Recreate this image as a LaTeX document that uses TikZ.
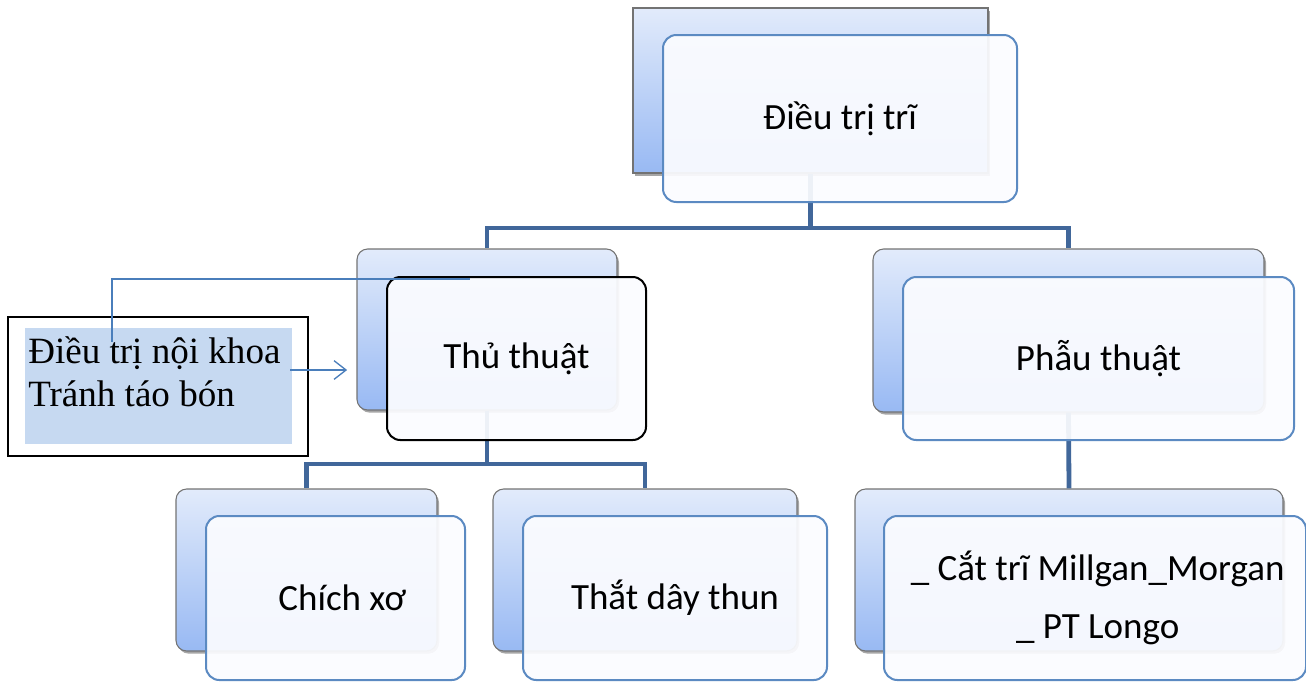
\documentclass[tikz,border=0pt]{standalone}
\usepackage{fontspec}
\setmainfont{Liberation Serif}
\newfontfamily\boxfont{Carlito}
\usetikzlibrary{shadows,arrows.meta,fit}
\definecolor{bkTop}{HTML}{E2EBFB}
\definecolor{bkBot}{HTML}{98B9F3}
\definecolor{frLine}{HTML}{5B8AC2}
\definecolor{frFill}{HTML}{FBFCFF}
\definecolor{connCol}{HTML}{41679A}
\definecolor{noteFill}{HTML}{C6D9F1}
\definecolor{arrCol}{HTML}{4A7EBB}
\begin{document}
\begin{tikzpicture}[x=0.75pt,y=-0.75pt,
  backbox/.style={draw=black!55, line width=0.8pt, top color=bkTop, bottom color=bkBot,
    rounded corners=8pt, inner sep=0pt,
    drop shadow={shadow xshift=1.5pt, shadow yshift=-2pt, opacity=0.35, fill=black}},
  frontbox/.style={draw=frLine, line width=1.5pt, fill=frFill, fill opacity=0.93,
    rounded corners=10pt, inner sep=0pt},
  lbl/.style={font=\boxfont\fontsize{27.75pt}{43.5pt}\selectfont, text=black, align=center, inner sep=0pt},
  conn/.style={draw=connCol, line width=3.6pt},
  notetext/.style={font=\fontsize{27.8pt}{32pt}\selectfont, anchor=base west, inner sep=0pt},
  thin arrow/.style={draw=arrCol, line width=1pt}
]
\useasboundingbox (0,0) rectangle (1306,682);

% back boxes
\node[backbox, rounded corners=0pt, fit={(633,8) (988,173)}] (topB) {};
\node[backbox, fit={(357,249) (617,410)}] (thuB) {};
\node[backbox, fit={(873,249) (1264,412)}] (phauB) {};
\node[backbox, fit={(176,489) (437,651)}] (chichB) {};
\node[backbox, fit={(493,489) (797,651)}] (thatB) {};
\node[backbox, fit={(855,489) (1283,651)}] (catB) {};

% connectors
\draw[conn] (topB.south) -- (topB.south |- 0,228) -| (thuB.north);
\draw[conn] (topB.south |- 0,228) -| (phauB.north);
\draw[conn] (thuB.south) -- (thuB.south |- 0,464) -| (chichB.north);
\draw[conn] (thuB.south |- 0,464) -| (thatB.north);
\draw[conn] (phauB.south) -- (catB.north);

% front boxes
\node[frontbox, fit={(663,35) (1017,202)}, label={[lbl]center:Điều trị trĩ}] (top) {};
\node[frontbox, draw=black, fit={(387,277) (646,440)}, label={[lbl]center:Thủ thuật}] (thu) {};
\node[frontbox, fit={(903,277) (1294,440)}, label={[lbl]center:Phẫu thuật}] (phau) {};
\node[frontbox, fit={(206,516) (465,680)}, label={[lbl, xshift=5pt]center:Chích xơ}] (chich) {};
\node[frontbox, fit={(523,516) (827,680)}, label={[lbl]center:Thắt dây thun}] (that) {};
\node[frontbox, fit={(884,516) (1306,680)}, label={[lbl, xshift=2pt]center:\_ Cắt trĩ Millgan\_Morgan\\\_ PT Longo}] (cat) {};

% note box
\node[draw=black, line width=1.2pt, fill=white, inner sep=0pt, fit={(8,317) (308,456)}] (note) {};
\node[fill=noteFill, inner sep=0pt, fit={(25,328) (292,444)}] (noteIn) {};
\node[notetext] (n1) at (28,363) {Điều trị nội khoa};
\node[notetext] (n2) at (28,406) {Tránh táo bón};

% thin connectors
\coordinate (lineStart) at (112,342);
\coordinate (lineEnd) at (470,279);
\draw[thin arrow] (lineStart) |- (lineEnd);
\coordinate (arrStart) at (290,370);
\draw[thin arrow, shorten >=7pt, -{Straight Barb[length=9pt, width=14pt]}] (arrStart) -- (thuB.west |- arrStart);
\end{tikzpicture}
\end{document}
